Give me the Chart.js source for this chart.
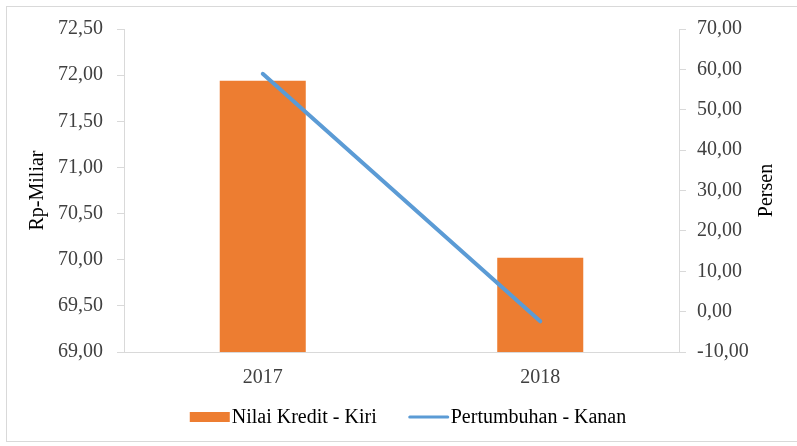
<!DOCTYPE html>
<html>
<head>
<meta charset="utf-8">
<script src="https://cdn.jsdelivr.net/npm/chart.js@4"></script>
<style>
  html, body { margin: 0; padding: 0; background: #fff; }
  #wrap { position: relative; width: 797px; height: 446px; }
  #frame { position: absolute; left: 6px; top: 6px; width: 800px; height: 436px;
           border: 1px solid #d9d9d9; box-sizing: border-box; pointer-events: none; }
</style>
</head>
<body>
<div id="wrap">
  <canvas id="chart" width="797" height="446"></canvas>
  <div id="frame"></div>
</div>
<script>
// ── Data ──────────────────────────────────────────────────────────────────
const years       = ['2017', '2018'];
const nilaiKredit = [71.94, 70.02];   // Rp-Miliar (left axis)
const pertumbuhan = [58.9, -2.4];     // Persen (right axis)

const FONT = "'Liberation Serif', 'Times New Roman', serif";
const SIZE = 20;
const TXT  = '#404040';
const AXIS = '#d9d9d9';
const fmt  = v => Number(v).toFixed(2).replace('.', ',');

Chart.defaults.font.family = FONT;
Chart.defaults.font.size = SIZE;

// right axis title reads bottom-to-top like the left one,
// and the legend swatches hug their text
const extras = {
  id: 'extras',
  afterDraw(chart) {
    const { ctx, chartArea } = chart;
    ctx.save();
    ctx.font = `${SIZE}px ${FONT}`;
    ctx.fillStyle = '#000';

    ctx.save();
    ctx.translate(767, (chartArea.top + chartArea.bottom) / 2);
    ctx.rotate(-Math.PI / 2);
    ctx.textAlign = 'center';
    ctx.textBaseline = 'middle';
    ctx.fillText('Persen', 0, 0);
    ctx.restore();

    // legend
    const ds = chart.data.datasets;
    const sw = 40, gap = 2, between = 32, y = 417;
    const widths = ds.map(d => sw + gap + ctx.measureText(d.label).width);
    let x = 408 - (widths.reduce((a, b) => a + b, 0) + between) / 2;
    ctx.textBaseline = 'middle';
    ctx.textAlign = 'left';
    ds.forEach((d, i) => {
      if (d.type === 'bar') {
        ctx.fillStyle = d.backgroundColor;
        ctx.fillRect(x, y - 5, sw, 10);
      } else {
        ctx.strokeStyle = d.borderColor;
        ctx.lineWidth = 3;
        ctx.lineCap = 'round';
        ctx.beginPath();
        ctx.moveTo(x + 1, y);
        ctx.lineTo(x + sw - 1, y);
        ctx.stroke();
      }
      ctx.fillStyle = '#000';
      ctx.fillText(d.label, x + sw + gap, y + 1);
      x += widths[i] + between;
    });
    ctx.restore();
  }
};

new Chart(document.getElementById('chart'), {
  type: 'bar',
  plugins: [extras],
  data: {
    labels: years,
    datasets: [
      { type: 'bar', label: 'Nilai Kredit - Kiri', data: nilaiKredit, yAxisID: 'y',
        backgroundColor: '#ED7D31', borderWidth: 0,
        categoryPercentage: 0.31, barPercentage: 1, order: 2 },
      { type: 'line', label: 'Pertumbuhan - Kanan', data: pertumbuhan, yAxisID: 'y1',
        borderColor: '#5B9BD5', backgroundColor: '#5B9BD5', borderWidth: 4,
        borderCapStyle: 'round', pointRadius: 0, fill: false, order: 1 }
    ]
  },
  options: {
    responsive: false, animation: false,
    layout: { padding: { left: 22, right: 15, top: 29, bottom: 42 } },
    plugins: {
      tooltip: { enabled: false },
      legend: { display: false }
    },
    scales: {
      x: {
        grid: { display: true, drawOnChartArea: false, drawTicks: false },
        border: { color: AXIS, width: 1 },
        ticks: { color: TXT, padding: 14 }
      },
      y: {
        position: 'left', min: 69, max: 72.5,
        afterFit: s => { s.width = 102; },
        grid: { drawOnChartArea: false, color: AXIS, tickLength: 7 },
        border: { color: AXIS, width: 1 },
        ticks: { stepSize: 0.5, color: TXT, padding: 14, callback: fmt },
        title: { display: true, text: 'Rp-Miliar', color: '#000' }
      },
      y1: {
        position: 'right', min: -10, max: 70,
        afterFit: s => { s.width = 103; },
        grid: { drawOnChartArea: false, color: AXIS, tickLength: 7 },
        border: { color: AXIS, width: 1 },
        ticks: { stepSize: 10, color: TXT, padding: 11, callback: fmt }
      }
    }
  }
});
</script>
</body>
</html>
